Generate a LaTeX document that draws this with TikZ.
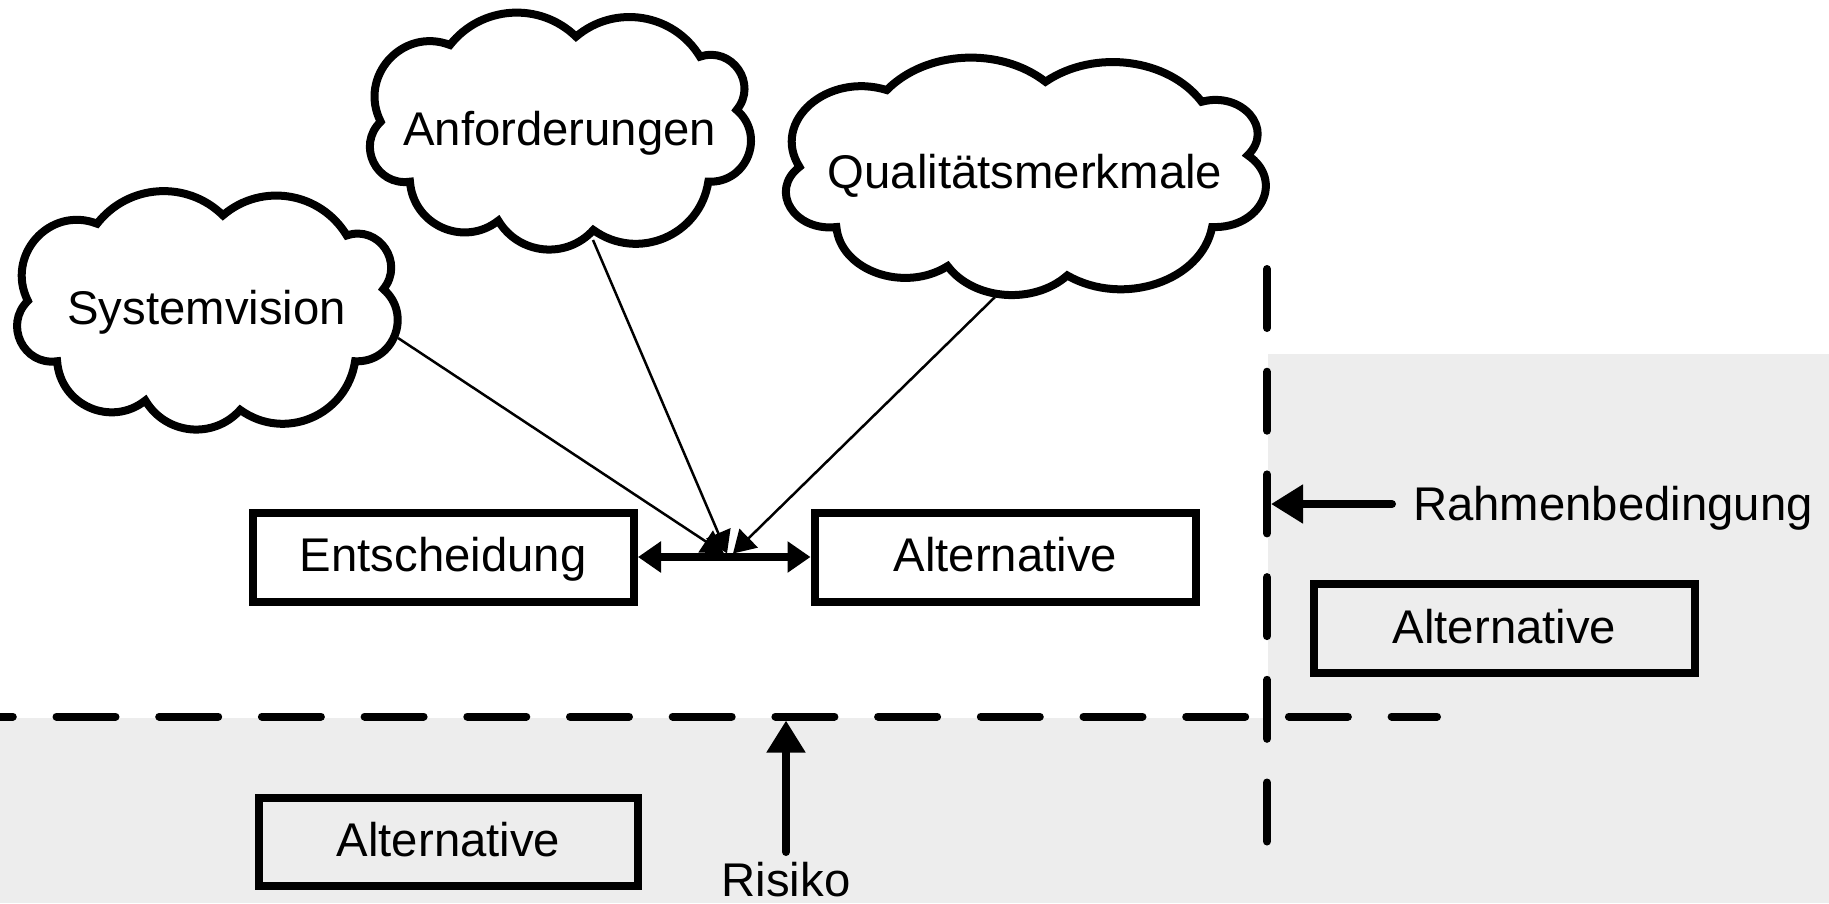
\documentclass[tikz,border=0pt]{standalone}
\usepackage{fontspec}
\setmainfont{Liberation Sans}
\usetikzlibrary{arrows.meta}
\newcommand\lblfont{\fontsize{47.3}{56}\selectfont}
\definecolor{panelgray}{HTML}{EDEDED}

% Cloud outline of nine puffs, centred at (#1,#2), size #3 x #4 (picture units)
\newcommand\cloudoutline[4]{%
  \begin{scope}[shift={(#1,#2)}, x=#3pt, y=-#4pt]
    \draw[cloudline] (-0.4645,-0.0382)
      .. controls (-0.5240,-0.2288) and (-0.4075,-0.4380) .. (-0.2847,-0.3611)
      .. controls (-0.2038,-0.5279) and (-0.0516,-0.5442) .. (0.0422,-0.3961)
      .. controls (0.1425,-0.5345) and (0.2953,-0.4945) .. (0.3638,-0.3119)
      .. controls (0.4470,-0.3571) and (0.5147,-0.1973) .. (0.4589,-0.0874)
      .. controls (0.5353,0.0188) and (0.4859,0.2217) .. (0.3854,0.2144)
      .. controls (0.3640,0.4417) and (0.2022,0.5521) .. (0.0871,0.4179)
      .. controls (0.0177,0.5425) and (-0.1062,0.5228) .. (-0.1593,0.3786)
      .. controls (-0.2487,0.4926) and (-0.3802,0.3984) .. (-0.3885,0.2144)
      .. controls (-0.4758,0.2345) and (-0.5280,0.0613) .. (-0.4645,-0.0382)
      -- cycle;
  \end{scope}}

\begin{document}
\begin{tikzpicture}[x=1pt, y=-1pt,
  tagtext/.style={font=\lblfont, inner sep=0pt, text height=34pt, text depth=4.6pt},
  framebox/.style={tagtext, draw, line width=8pt, minimum width=381.5pt, minimum height=89pt},
  cloudline/.style={draw, fill=white, line width=8pt, line join=miter},
  dashrule/.style={line width=8pt, line cap=round, dash pattern=on 59pt off 43.7pt},
  feedarrow/.style={line width=2.5pt, -{Triangle[length=22pt,width=26pt]}},
  markarrow/.style={line width=8pt, line cap=round, -{Triangle[length=32pt,width=37pt]}},
  linkarrow/.style={line width=8pt, {Triangle[length=23pt,width=30pt]}-{Triangle[length=23pt,width=30pt]}},
]
\useasboundingbox (0,0) rectangle (1829,903);

% shaded zones
\fill[panelgray] (1268,354) rectangle (1829,903);
\fill[panelgray] (0,718) rectangle (1829,903);

% boundary lines
\draw[dashrule] (-46.2,716.5) -- (1437,716.5);
\draw[dashrule] (1267,269) -- (1267,841.5);

% boxes
\node[framebox] (ent) at (443.25,557) {Entscheidung};
\node[framebox] (altmid) at (1005.25,557) {Alternative};
\node[framebox] (altright) at (1504.5,628.5) {Alternative};
\node[framebox, minimum width=379pt, minimum height=88pt] (altlow) at (448.5,842) {Alternative};

% clouds
\cloudoutline{206.7}{310}{385}{239}
\cloudoutline{559.75}{130.75}{385.5}{237.5}
\cloudoutline{1025}{176}{485.5}{238}
\node[tagtext] (sysv) at (206.7,310) {Systemvision};
\node[tagtext] (anf) at (559.75,130.75) {Anforderungen};
\node[tagtext] (qual) at (1025,173.3) {Qualitätsmerkmale};

% decision link
\draw[linkarrow] (ent.east) -- (altmid.west);

% influences on the decision
\coordinate (sysv-out) at (398,338);
\coordinate (anf-out) at (593,240);
\coordinate (qual-out) at (995,297);
\coordinate (hub-s) at (724,553.5);
\coordinate (hub-a) at (727,553.5);
\coordinate (hub-q) at (733,553.5);
\draw[feedarrow] (sysv-out) -- (hub-s);
\draw[feedarrow] (anf-out) -- (hub-a);
\draw[feedarrow] (qual-out) -- (hub-q);

% constraint and risk markers
\node[tagtext, anchor=base west] (rahmen) at (1413,520.7) {Rahmenbedingung};
\coordinate (rahmen-tail) at (1392,504);
\coordinate (rahmen-tip) at (1271,504);
\draw[markarrow] (rahmen-tail) -- (rahmen-tip);

\node[tagtext, text depth=1pt, anchor=base] (risiko) at (786,896) {Risiko};
\coordinate (risk-tail) at (786,852);
\coordinate (risk-tip) at (786,720.5);
\draw[markarrow] (risk-tail) -- (risk-tip);
\end{tikzpicture}
\end{document}
